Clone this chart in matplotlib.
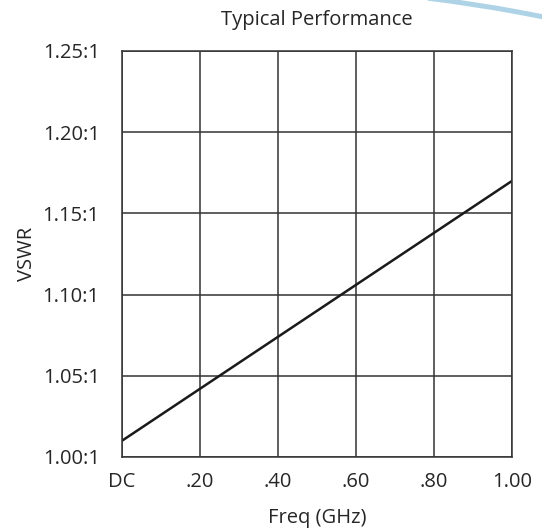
import matplotlib.pyplot as plt
from matplotlib.patches import Arc

# VSWR vs frequency (straight line)
freq = [0.0, 1.0]
vswr = [1.01, 1.17]

x_ticks = [0.0, 0.2, 0.4, 0.6, 0.8, 1.0]
x_labels = ['DC', '.20', '.40', '.60', '.80', '1.00']
y_ticks = [1.00, 1.05, 1.10, 1.15, 1.20, 1.25]
y_labels = ['1.00:1', '1.05:1', '1.10:1', '1.15:1', '1.20:1', '1.25:1']

plt.rcParams['font.family'] = ['Open Sans', 'DejaVu Sans']
fs = 14.5
txt = '#262626'

fig = plt.figure(figsize=(5.42, 5.31), dpi=100)
ax = fig.add_axes([0.2251, 0.1394, 0.7196, 0.7646])

ax.plot(freq, vswr, color='#1a1a1a', linewidth=1.8, solid_capstyle='butt')

ax.set_xlim(0, 1)
ax.set_ylim(1.0, 1.25)
ax.set_xticks(x_ticks)
ax.set_xticklabels(x_labels)
ax.set_yticks(y_ticks)
ax.set_yticklabels(y_labels)
ax.tick_params(length=0, labelsize=fs, colors=txt)
ax.tick_params(axis='y', pad=16)
ax.tick_params(axis='x', pad=10.5)
ax.grid(True, color='#333333', linewidth=1.1)
for s in ax.spines.values():
    s.set_color('#333333')
    s.set_linewidth(1.1)

ax.set_title('Typical Performance', fontsize=fs, color=txt, pad=18.5)
ax.set_xlabel('Freq (GHz)', fontsize=fs, color=txt, labelpad=12)
ax.set_ylabel('VSWR', fontsize=fs, color=txt, labelpad=4)

# decorative light-blue arc in the top-right corner
arc = Arc((2.45, -9.56), 30.0, 30.0, theta1=76, theta2=83,
          transform=fig.dpi_scale_trans, color='#aed3e6', linewidth=3.6)
fig.add_artist(arc)

fig.savefig('out.png', dpi=100)
